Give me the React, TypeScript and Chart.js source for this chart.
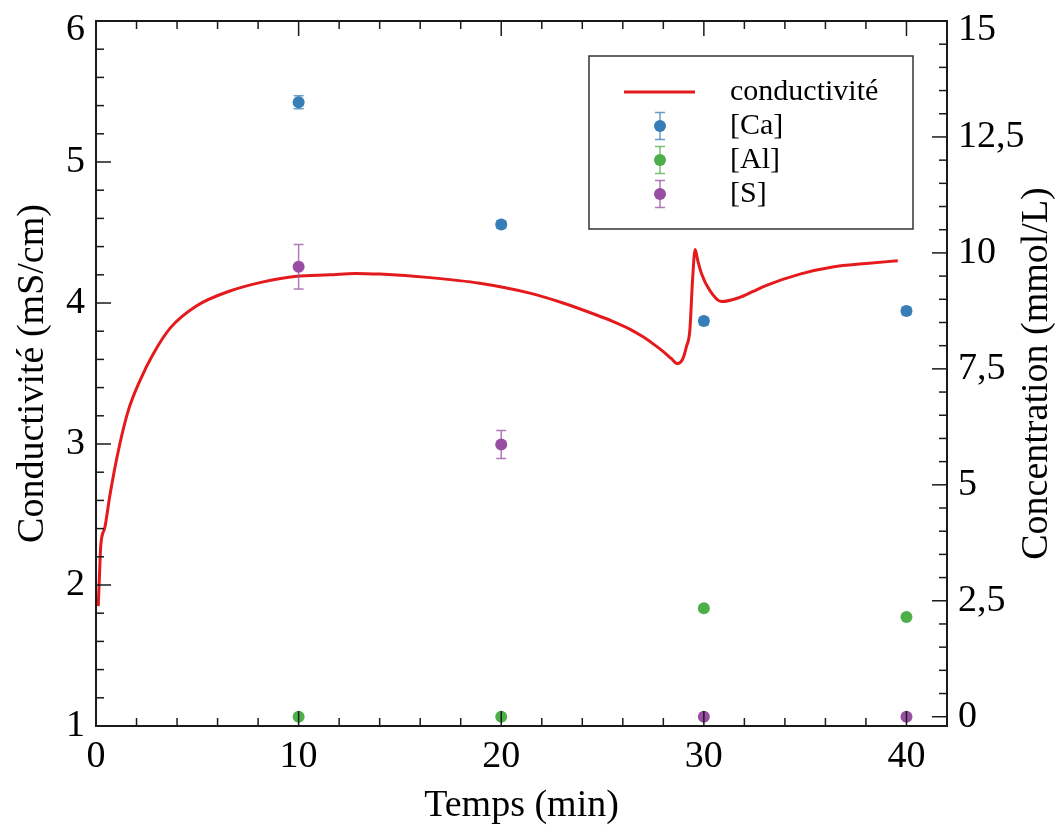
import React, { useEffect, useRef } from 'react';
import { Chart, registerables } from 'chart.js';

Chart.register(...registerables);

const FONT = '"Liberation Serif", "Times New Roman", Times, serif';

// Conductivity trace (time in min, conductivity in mS/cm)
const condTime = [0.11, 0.18, 0.23, 0.44, 0.69, 1.13, 1.6, 2.17, 2.83, 3.65, 4.97, 6.61, 8.25, 9.9, 11.54, 12.8, 14.0, 16.48, 18.94, 21.41, 23.05, 24.7, 25.5, 26.34, 27.0, 27.5, 28.0, 28.4, 28.69, 28.95, 29.14, 29.31, 29.44, 29.57, 29.7, 29.88, 30.29, 30.87, 31.77, 32.4, 33.09, 34.74, 36.36, 38.02, 39.57];
const condValues = [1.85, 2.1, 2.27, 2.41, 2.64, 2.97, 3.24, 3.45, 3.64, 3.82, 3.98, 4.085, 4.15, 4.19, 4.2, 4.21, 4.205, 4.18, 4.14, 4.07, 4.0, 3.915, 3.87, 3.815, 3.76, 3.71, 3.655, 3.605, 3.57, 3.6, 3.69, 3.81, 4.16, 4.38, 4.3, 4.21, 4.09, 4.01, 4.04, 4.08, 4.125, 4.205, 4.255, 4.28, 4.3];

// Concentrations (mmol/L)
const sampleTimes = [10, 20, 30, 40];
const caValues = [13.25, 10.61, 8.53, 8.75];
const caErrors = [0.14, 0.08, 0.08, 0.08];
const alValues = [0, 0, 2.34, 2.15];
const alErrors = [0, 0, 0, 0];
const sValues = [9.7, 5.87, 0, 0];
const sErrors = [0.48, 0.3, 0, 0];

const xTicks = [0, 10, 20, 30, 40];
const leftTicks = [1, 2, 3, 4, 5, 6];
const rightTicks = [0, 2.5, 5, 7.5, 10, 12.5, 15];

const legendLabels = ['conductivité', '[Ca]', '[Al]', '[S]'];
const RED = '#e41a1c';
const BLUE = '#377eb8';
const GREEN = '#4daf4a';
const PURPLE = '#984ea3';
const BLUE_E = 'rgba(55,126,184,0.75)';
const GREEN_E = 'rgba(77,175,74,0.75)';
const PURPLE_E = 'rgba(152,78,163,0.75)';

const errorBarPlugin = {
  id: 'errorBars',
  beforeDatasetDraw(chart: any, args: any) {
    const ds = chart.data.datasets[args.index];
    if (!ds.errors) return;
    const { ctx } = chart;
    const xs = chart.scales.x;
    const ys = chart.scales[ds.yAxisID];
    ctx.save();
    ctx.strokeStyle = ds.errorColor;
    ctx.lineWidth = 1.5;
    ds.data.forEach((p: any, i: number) => {
      const e = ds.errors[i];
      if (!e) return;
      const px = xs.getPixelForValue(p.x);
      const top = ys.getPixelForValue(p.y + e);
      const bot = ys.getPixelForValue(p.y - e);
      ctx.beginPath();
      ctx.moveTo(px, top);
      ctx.lineTo(px, bot);
      ctx.moveTo(px - 5, top);
      ctx.lineTo(px + 5, top);
      ctx.moveTo(px - 5, bot);
      ctx.lineTo(px + 5, bot);
      ctx.stroke();
    });
    ctx.restore();
  },
};

const frameTicksPlugin = {
  id: 'frameTicks',
  afterDraw(chart: any) {
    const { ctx, chartArea: a, scales } = chart;
    const xs = scales.x;
    const ys = scales.y;
    const ys1 = scales.y1;
    ctx.save();
    ctx.strokeStyle = '#1a1a1a';
    ctx.lineWidth = 1.5;
    const seg = (x0: number, y0: number, x1: number, y1: number) => {
      ctx.beginPath();
      ctx.moveTo(x0, y0);
      ctx.lineTo(x1, y1);
      ctx.stroke();
    };
    for (let i = 0; i <= 21; i++) {
      const v = i * 2;
      const px = xs.getPixelForValue(v);
      if (px <= a.left + 1 || px >= a.right - 1) continue;
      const len = v % 10 === 0 ? 15 : 8;
      seg(px, a.bottom, px, a.bottom - len);
      seg(px, a.top, px, a.top + len);
    }
    for (let i = 0; i <= 25; i++) {
      const v = 1 + i * 0.2;
      const py = ys.getPixelForValue(v);
      if (py <= a.top + 1 || py >= a.bottom - 1) continue;
      const len = i % 5 === 0 ? 15 : 8;
      seg(a.left, py, a.left + len, py);
    }
    for (let i = 0; i <= 30; i++) {
      const v = i * 0.5;
      const py = ys1.getPixelForValue(v);
      if (py <= a.top + 1 || py >= a.bottom - 1) continue;
      const len = i % 5 === 0 ? 15 : 8;
      seg(a.right, py, a.right - len, py);
    }
    ctx.lineWidth = 2;
    ctx.strokeRect(a.left, a.top, a.right - a.left, a.bottom - a.top);

    // right axis title (reads bottom to top)
    ctx.save();
    ctx.fillStyle = '#000';
    ctx.font = `38px ${FONT}`;
    ctx.textAlign = 'center';
    ctx.textBaseline = 'middle';
    ctx.translate(1037, (a.top + a.bottom) / 2);
    ctx.rotate(-Math.PI / 2);
    ctx.fillText('Concentration (mmol/L)', 0, 0);
    ctx.restore();

    // legend
    const bx = a.right - 358;
    const by = a.top + 35;
    const bw = 324;
    const bh = 173;
    ctx.fillStyle = '#fff';
    ctx.fillRect(bx, by, bw, bh);
    ctx.strokeStyle = '#333';
    ctx.lineWidth = 1.5;
    ctx.strokeRect(bx, by, bw, bh);
    const rowY = [by + 36, by + 70, by + 104, by + 138];
    ctx.strokeStyle = RED;
    ctx.lineWidth = 3;
    seg(bx + 35, rowY[0], bx + 106, rowY[0]);
    const mk = [
      [BLUE, BLUE_E],
      [GREEN, GREEN_E],
      [PURPLE, PURPLE_E],
    ];
    const mx = bx + 71;
    mk.forEach(([c, ec], i) => {
      const y = rowY[i + 1];
      ctx.strokeStyle = ec;
      ctx.lineWidth = 1.5;
      seg(mx, y - 13.5, mx, y + 13.5);
      seg(mx - 5, y - 13.5, mx + 5, y - 13.5);
      seg(mx - 5, y + 13.5, mx + 5, y + 13.5);
      ctx.fillStyle = c;
      ctx.beginPath();
      ctx.arc(mx, y, 6, 0, Math.PI * 2);
      ctx.fill();
    });
    ctx.fillStyle = '#000';
    ctx.font = `30px ${FONT}`;
    ctx.textAlign = 'left';
    ctx.textBaseline = 'middle';
    legendLabels.forEach((t, i) => ctx.fillText(t, bx + 141, rowY[i]));
    ctx.restore();
  },
};

const zeroPad = (s: any) => {
  s.paddingTop = 0;
  s.paddingBottom = 0;
  s.paddingLeft = 0;
  s.paddingRight = 0;
};

export default function App() {
  const ref = useRef<HTMLCanvasElement | null>(null);

  useEffect(() => {
    if (!ref.current) return;
    const xTickFont = { family: FONT, size: 38, lineHeight: 1 };
    const yTickFont = { family: FONT, size: 38, lineHeight: 0.5 };
    const point = (vals: number[]) => sampleTimes.map((t, i) => ({ x: t, y: vals[i] }));
    const chart = new Chart(ref.current, {
      type: 'scatter',
      data: {
        datasets: [
          {
            label: '[Ca]',
            data: point(caValues),
            yAxisID: 'y1',
            pointRadius: 6,
            pointBorderWidth: 0,
            pointBackgroundColor: BLUE,
            backgroundColor: BLUE,
            errors: caErrors,
            errorColor: BLUE_E,
          } as any,
          {
            label: '[Al]',
            data: point(alValues),
            yAxisID: 'y1',
            pointRadius: 6,
            pointBorderWidth: 0,
            pointBackgroundColor: GREEN,
            backgroundColor: GREEN,
            errors: alErrors,
            errorColor: GREEN_E,
          } as any,
          {
            label: '[S]',
            data: point(sValues),
            yAxisID: 'y1',
            pointRadius: 6,
            pointBorderWidth: 0,
            pointBackgroundColor: PURPLE,
            backgroundColor: PURPLE,
            errors: sErrors,
            errorColor: PURPLE_E,
          } as any,
          {
            label: 'conductivité',
            data: condTime.map((t, i) => ({ x: t, y: condValues[i] })),
            yAxisID: 'y',
            showLine: true,
            borderColor: RED,
            borderWidth: 3,
            pointRadius: 0,
            cubicInterpolationMode: 'monotone',
          } as any,
        ],
      },
      options: {
        animation: false,
        responsive: false,
        events: [],
        layout: { padding: { top: 21, left: 0, right: 0, bottom: 0 } },
        plugins: { legend: { display: false }, tooltip: { enabled: false } },
        scales: {
          x: {
            type: 'linear',
            position: 'bottom',
            min: 0,
            max: 42,
            grid: { display: false, drawTicks: false },
            border: { display: false },
            afterBuildTicks: (s: any) => {
              s.ticks = xTicks.map((v) => ({ value: v }));
            },
            afterFit: (s: any) => {
              s.height = 105;
              zeroPad(s);
            },
            ticks: { font: xTickFont, color: '#000', padding: 12, maxRotation: 0, autoSkip: false },
            title: {
              display: true,
              text: 'Temps (min)',
              color: '#000',
              font: { family: FONT, size: 38, lineHeight: 1 },
              padding: { top: 0, bottom: 6 },
            },
          },
          y: {
            type: 'linear',
            position: 'left',
            min: 1,
            max: 6,
            grid: { display: false, drawTicks: false },
            border: { display: false },
            afterBuildTicks: (s: any) => {
              s.ticks = leftTicks.map((v) => ({ value: v }));
            },
            afterFit: (s: any) => {
              s.width = 96;
              zeroPad(s);
            },
            ticks: {
              font: yTickFont,
              color: '#000',
              padding: 11,
              autoSkip: false,
              callback: (v: any) => (v === 6 ? ['', String(v)] : String(v)),
            },
            title: {
              display: true,
              text: 'Conductivité (mS/cm)',
              color: '#000',
              font: { family: FONT, size: 38, lineHeight: 1 },
              padding: { top: 14, bottom: 0 },
            },
          },
          y1: {
            type: 'linear',
            position: 'right',
            min: -0.2,
            max: 15,
            grid: { display: false, drawTicks: false },
            border: { display: false },
            afterBuildTicks: (s: any) => {
              s.ticks = rightTicks.map((v) => ({ value: v }));
            },
            afterFit: (s: any) => {
              s.width = 108;
              zeroPad(s);
            },
            ticks: {
              font: yTickFont,
              color: '#000',
              padding: 11,
              autoSkip: false,
              callback: (v: any) => {
                const t = String(v).replace('.', ',');
                return v === 15 ? ['', t] : t;
              },
            },
          },
        },
      } as any,
      plugins: [errorBarPlugin, frameTicksPlugin],
    });
    return () => chart.destroy();
  }, []);

  return (
    <div style={{ position: 'fixed', left: 0, top: 0, width: 1055, height: 831, background: '#fff' }}>
      <canvas ref={ref} width={1055} height={831} style={{ display: 'block' }} />
    </div>
  );
}
